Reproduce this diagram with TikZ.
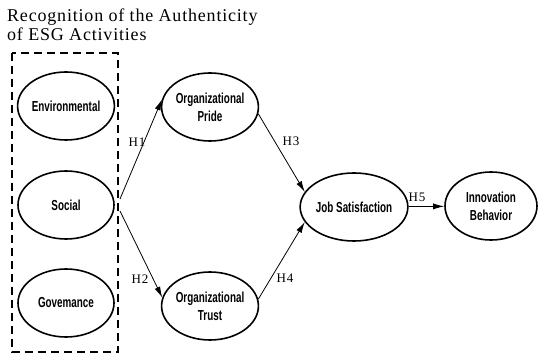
\documentclass[tikz,border=0pt]{standalone}
\usepackage{fontspec}
\usetikzlibrary{shapes.geometric,arrows.meta}
\newfontfamily\titlefont[LetterSpace=4.5]{Liberation Serif}
\newfontfamily\hfont[LetterSpace=8]{Liberation Serif}
\newfontfamily\nodefont[FakeStretch=0.68]{Liberation Sans}
\begin{document}
\begin{tikzpicture}[x=1pt,y=-1pt,
  lat/.style={ellipse, draw, line width=1.6pt, inner sep=0pt,
    minimum width=96pt, minimum height=68pt, align=center,
    font=\nodefont\bfseries\fontsize{14.5}{18}\selectfont},
  hyp/.style={inner sep=0pt, font=\hfont\fontsize{13}{15}\selectfont},
  ttl/.style={inner sep=0pt, anchor=base west, font=\titlefont\fontsize{18}{20}\selectfont},
  arr/.style={-{Latex[length=11pt,width=6pt]}, line width=0.8pt},
  dbox/.style={draw, line width=1.2pt, dash pattern=on 8pt off 5pt}]
\useasboundingbox (0,0) rectangle (538,355);
\node[ttl] (t1) at (7,22) {Recognition of the Authenticity};
\node[ttl] (t2) at (7,41) {of ESG Activities};
\draw[dbox] (12,53) rectangle (118,352);
\node[lat] (env) at (66,106) {Environmental};
\node[lat] (soc) at (66,205) {Social};
\node[lat] (gov) at (66,303) {Govemance};
\node[lat, minimum width=95pt] (op) at (210,107) {Organizational\\Pride};
\node[lat, minimum width=95pt] (ot) at (210,306) {Organizational\\Trust};
\node[lat, minimum width=94pt] (js) at (354,207) {Job Satisfaction};
\node[lat, minimum width=92pt] (ib) at (491,206) {Innovation\\Behavior};
\coordinate (s1) at (120,199);
\coordinate (s2) at (120,211);
\draw[arr] (s1) -- (op.171);
\draw[arr] (s2) -- (ot.170);
\draw[arr] (op.-8) -- (js.163);
\draw[arr] (ot.8) -- (js.197);
\draw[arr] (js) -- (ib);
\node[hyp] (h1) at (137,142) {H1};
\node[hyp] (h2) at (140,279) {H2};
\node[hyp] (h3) at (291,141) {H3};
\node[hyp] (h4) at (285,278) {H4};
\node[hyp] (h5) at (417,197) {H5};
\end{tikzpicture}
\end{document}
